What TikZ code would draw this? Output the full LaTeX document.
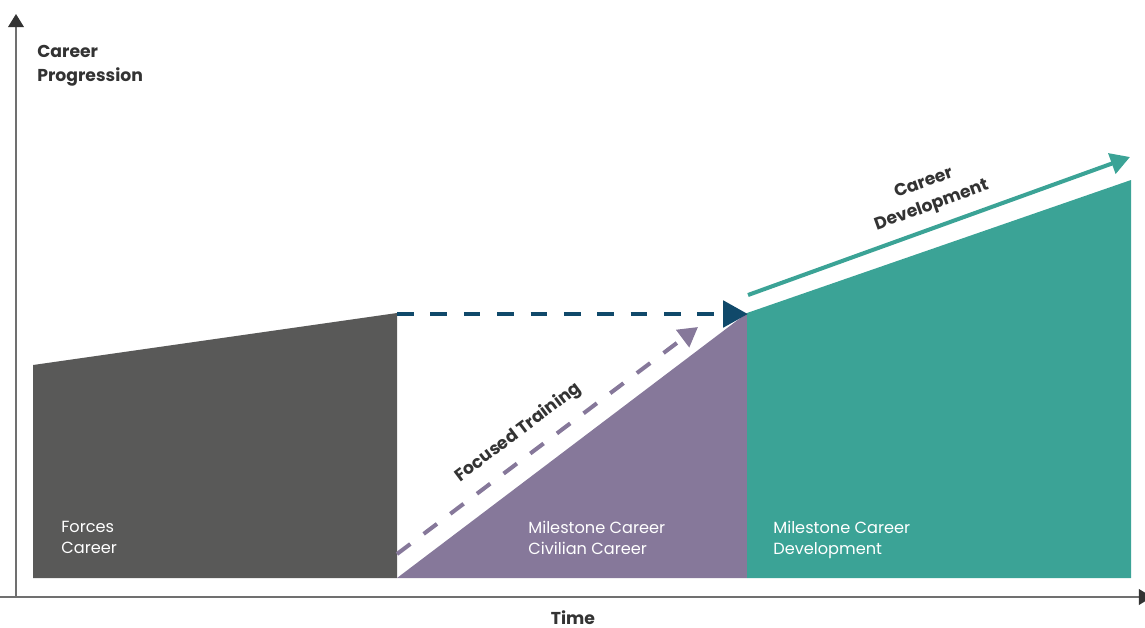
\documentclass[tikz,border=0pt]{standalone}
\usepackage{fontspec}
\setmainfont{Poppins}
\usetikzlibrary{arrows.meta}
\definecolor{forcegray}{HTML}{595958}
\definecolor{milepurple}{HTML}{86789A}
\definecolor{devteal}{HTML}{3BA396}
\definecolor{navyblue}{HTML}{10496A}
\definecolor{axisgray}{HTML}{707070}
\definecolor{textdark}{HTML}{333333}
\tikzset{
	axis/.style={axisgray, line width=0.9pt},
	lbl/.style={text=white, align=left, anchor=north west, inner sep=0pt, font=\fontsize{9.2}{12}\selectfont},
	ttl/.style={text=textdark, inner sep=0pt, font=\bfseries\fontsize{9.8}{13.5}\selectfont},
	dasharrow/.style={line width=2.3pt, dash pattern=on 9.5pt off 9.5pt},
}
\begin{document}
\begin{tikzpicture}[x=0.02cm,y=-0.02cm]
	\useasboundingbox (0,0) rectangle (1145,627);

	\coordinate (orig) at (16,597);
	\coordinate (ytop) at (16,14);
	\coordinate (xleft) at (0,597);
	\coordinate (xend) at (1152,597);
	\draw[axis, -{Triangle[length=7.5pt, width=9pt, color=textdark]}] (orig) -- (ytop);%y Achse
	\draw[axis, -{Triangle[length=7.5pt, width=9pt, color=textdark]}] (xleft) -- (xend);%x Achse

	\fill[forcegray] (33,365) -- (397,313) -- (397,578) -- (33,578) -- cycle;%Forces
	\fill[milepurple] (397,578) -- (747,313) -- (747,578) -- cycle;%Civilian
	\fill[devteal] (747,313) -- (1131,180) -- (1131,578) -- (747,578) -- cycle;%Development

	\coordinate (navys) at (397,314);
	\coordinate (navye) at (746,314);
	\draw[dasharrow, navyblue, -{Triangle[length=14pt, width=15pt, sep=-1pt]}] (navys) -- (navye);%gestrichelt horizontal

	\coordinate (trains) at (397,554);
	\coordinate (traine) at (698,327);
	\draw[dasharrow, milepurple, -{Triangle[length=11pt, width=12pt]}] (trains) -- (traine)
		node[ttl, pos=0.45, sloped, above=7pt] (focus) {Focused Training};

	\coordinate (devs) at (748,295);
	\coordinate (deve) at (1130,157);
	\draw[line width=2.3pt, devteal, -{Triangle[length=11pt, width=12pt]}] (devs) -- (deve)
		node[ttl, align=center, pos=0.5, sloped, above=6pt] (devtext) {Career\\Development};

	\node[ttl, align=left, anchor=north west] (ylabel) at (37,45) {Career\\Progression};
	\node[ttl] (xlabel) at (573,618) {Time};

	\node[lbl] (forces) at (61,521) {Forces\\Career};
	\node[lbl] (civil) at (528,521) {Milestone Career\\Civilian Career};
	\node[lbl] (develop) at (773,521) {Milestone Career\\Development};

\end{tikzpicture}
\end{document}
